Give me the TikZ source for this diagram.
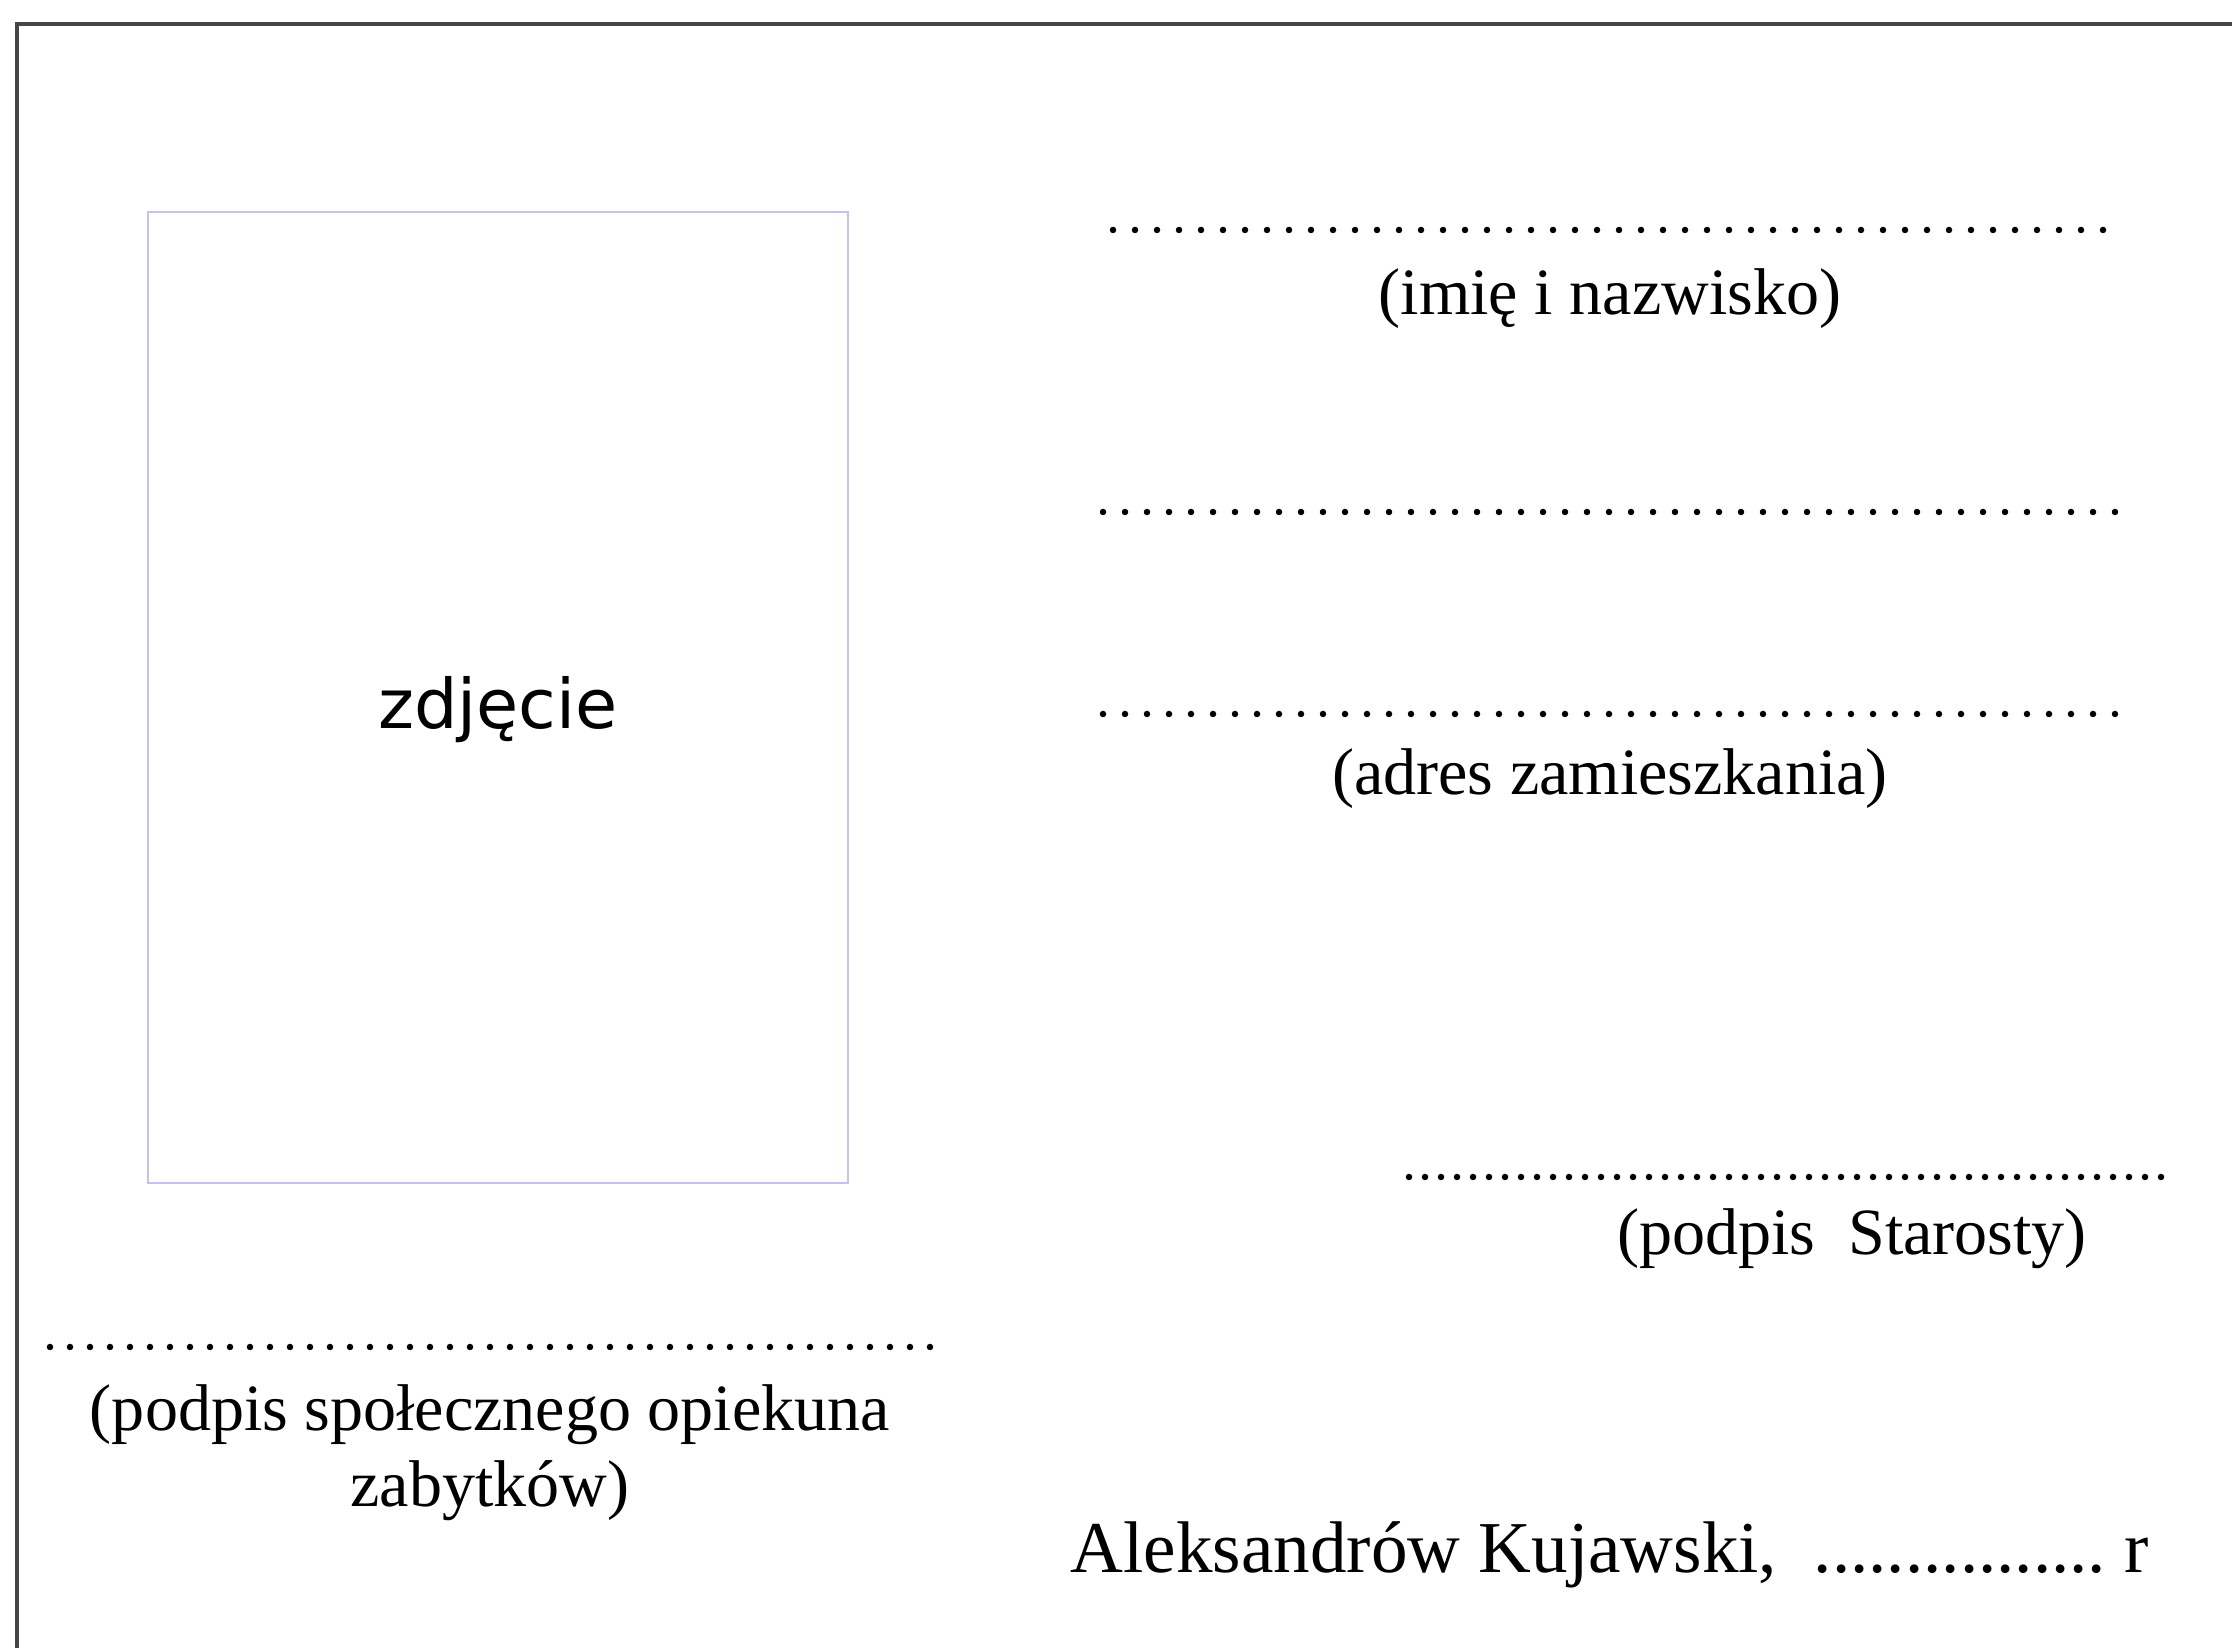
\documentclass[tikz,border=0pt]{standalone}
\usepackage{fontspec}
\setmainfont{Liberation Serif}
\newfontfamily\photofont{DejaVu Sans}
\definecolor{framegray}{RGB}{70,70,70}
\definecolor{photoblue}{RGB}{195,195,238}

\begin{document}
\begin{tikzpicture}[x=0.1mm,y=-0.1mm,
	dotline/.style={line width=0.65mm,line cap=round,dash pattern=on 0pt off #1},
	caption/.style={inner sep=0pt,font=\fontsize{18.8}{21.6}\selectfont}]
\useasboundingbox (0,0) rectangle (2232,1648);
\clip (0,0) rectangle (2232,1648);
\draw [framegray,line width=0.35mm] (17,1660) -- (17,24) -- (2240,24);
\node (photo) [draw=photoblue,line width=0.2mm,minimum width=70mm,minimum height=97.1mm,inner sep=0pt] at (498,698) {};
\node (photolabel) [font=\photofont\fontsize{19.5}{22}\selectfont,inner sep=0pt] at (498,710) {zdjęcie};
\foreach \y/\a/\b in {230/1113/2113,512/1103/2125,714/1103/2125}
	\draw [dotline=2.2mm] (\a,\y) -- (\b,\y);
\draw [dotline=1.6mm] (1409,1177) -- (2167,1177);
\draw [dotline=2mm] (50,1347) -- (937,1347);
\node (name) [caption] at (1610,299) {(imię i nazwisko)};
\node (address) [caption] at (1610,779) {(adres zamieszkania)};
\node (starosta) [caption] at (1852,1239) {(podpis~~Starosty)};
\node (guardian) [caption,align=center] at (490,1453) {(podpis społecznego opiekuna\\zabytków)};
\node (date) [anchor=base west,inner sep=0pt,font=\fontsize{20.8}{24}\selectfont] at (1070,1572) {Aleksandrów Kujawski,~~................~r};
\end{tikzpicture}
\end{document}
